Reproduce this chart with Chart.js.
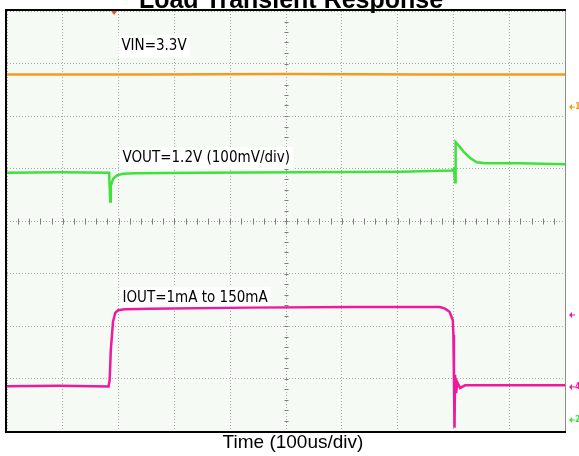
<!DOCTYPE html>
<html>
<head>
<meta charset="utf-8">
<title>Load Transient Response</title>
<script src="https://cdn.jsdelivr.net/npm/chart.js@4.4.1/dist/chart.umd.min.js"></script>
<style>
  html, body { margin: 0; padding: 0; background: #ffffff; }
  #wrap { position: relative; width: 579px; height: 456px; }
</style>
</head>
<body>
<div id="wrap"><canvas id="scope"></canvas></div>
<script>
/* ------------------------------------------------------------
   Scope capture: 10 x 8 divisions.
   Time is in divisions (100us/div), levels in divisions from
   the bottom of the screen.
------------------------------------------------------------ */
var X_DIVS = 10;
var Y_DIVS = 8;

var chartTitle = 'Load Transient Response';
var xAxisTitle = 'Time (100us/div)';
var traceLabels = ['VIN=3.3V', 'VOUT=1.2V (100mV/div)', 'IOUT=1mA to 150mA'];

var vinT  = [0, 2.5, 5, 7.5, 10];
var vinV  = [6.79, 6.79, 6.80, 6.79, 6.79];

var voutT = [0, 0.95, 1.83, 1.85, 1.86, 1.90, 1.97, 2.08, 2.29, 3.46, 5.25, 7.04, 7.97, 8.01, 8.03, 8.04, 8.10, 8.19, 8.30, 8.42, 8.57, 9.19, 10];
var voutV = [4.92, 4.93, 4.92, 4.37, 4.67, 4.80, 4.87, 4.90, 4.91, 4.92, 4.93, 4.94, 4.96, 4.99, 4.74, 5.50, 5.43, 5.31, 5.20, 5.12, 5.10, 5.10, 5.08];

var ioutT = [0, 0.95, 1.82, 1.84, 1.86, 1.90, 1.94, 1.99, 2.11, 2.56, 4.35, 6.15, 7.76, 7.85, 7.93, 7.99, 8.00, 8.01, 8.02, 8.03, 8.05, 8.07, 8.12, 8.21, 9.19, 10];
var ioutV = [0.85, 0.86, 0.85, 0.97, 1.54, 2.08, 2.25, 2.30, 2.32, 2.33, 2.35, 2.36, 2.36, 2.33, 2.27, 2.11, 1.83, 0.97, 0.06, 1.07, 0.72, 0.93, 0.82, 0.87, 0.87, 0.87];

var COLORS = {
  vin:    '#f59a1e',
  vout:   '#3ee23a',
  iout:   '#ee1a9e',
  screen: '#f5faf5',
  grid:   '#a6a6a6',
  tick:   '#7d7d7d',
  frame:  '#000000'
};

function toPoints(t, v) {
  return t.map(function (x, i) { return { x: x, y: v[i] }; });
}

/* screen background, frame, graticule ticks, labels and markers */
var scopePlugin = {
  id: 'scope',
  beforeDraw: function (chart) {
    var ctx = chart.ctx, a = chart.chartArea;
    ctx.save();
    ctx.fillStyle = COLORS.screen;
    ctx.fillRect(a.left, a.top, a.right - a.left, a.bottom - a.top);
    ctx.restore();
  },
  beforeDatasetsDraw: function (chart) {
    var ctx = chart.ctx;
    var xs = chart.scales.x, ys = chart.scales.y;
    var cx = Math.round(xs.getPixelForValue(X_DIVS / 2)) + 0.5;
    var cy = Math.round(ys.getPixelForValue(Y_DIVS / 2)) + 0.5;
    ctx.save();
    ctx.strokeStyle = COLORS.tick;
    ctx.lineWidth = 1;
    ctx.beginPath();
    for (var i = 1; i < X_DIVS * 5; i++) {
      var px = Math.round(xs.getPixelForValue(i / 5)) + 0.5;
      ctx.moveTo(px, cy - 3);
      ctx.lineTo(px, cy + 3);
    }
    for (var j = 1; j < Y_DIVS * 5; j++) {
      var py = Math.round(ys.getPixelForValue(j / 5)) + 0.5;
      ctx.moveTo(cx - 2, py);
      ctx.lineTo(cx + 2, py);
    }
    ctx.stroke();

    /* trace labels */
    var spots = [[2.05, 7.33], [2.07, 5.20], [2.07, 2.54]];
    ctx.font = '15px "DejaVu Sans Condensed", "DejaVu Sans", sans-serif';
    ctx.textBaseline = 'middle';
    ctx.textAlign = 'left';
    traceLabels.forEach(function (txt, k) {
      var lx = xs.getPixelForValue(spots[k][0]);
      var ly = ys.getPixelForValue(spots[k][1]);
      var w = ctx.measureText(txt).width;
      ctx.fillStyle = '#ffffff';
      ctx.fillRect(lx - 3, ly - 11, w + 6, 22);
      ctx.fillStyle = '#000000';
      ctx.fillText(txt, lx, ly);
    });
    ctx.restore();
  },
  afterDraw: function (chart) {
    var ctx = chart.ctx, a = chart.chartArea;
    var xs = chart.scales.x, ys = chart.scales.y;
    ctx.save();

    /* frame */
    ctx.strokeStyle = COLORS.frame;
    ctx.lineWidth = 2;
    ctx.beginPath();
    ctx.moveTo(a.right + 1, a.top - 1);
    ctx.lineTo(a.left - 1, a.top - 1);
    ctx.lineTo(a.left - 1, a.bottom + 1);
    ctx.lineTo(a.right + 1, a.bottom + 1);
    ctx.stroke();
    ctx.strokeStyle = '#8c8c8c';
    ctx.lineWidth = 1;
    ctx.beginPath();
    ctx.moveTo(a.right + 0.5, a.top);
    ctx.lineTo(a.right + 0.5, a.bottom);
    ctx.stroke();

    /* trigger position marker */
    var tx = xs.getPixelForValue(1.92);
    ctx.fillStyle = '#f0501e';
    ctx.beginPath();
    ctx.moveTo(tx - 3, a.top);
    ctx.lineTo(tx + 3, a.top);
    ctx.lineTo(tx, a.top + 4);
    ctx.closePath();
    ctx.fill();

    /* channel markers at right edge */
    var marks = [['1', 6.17, COLORS.vin], ['', 2.21, COLORS.iout], ['4', 0.84, COLORS.iout], ['2', 0.21, COLORS.vout]];
    ctx.font = 'bold 9px "DejaVu Sans Condensed", "DejaVu Sans", sans-serif';
    ctx.textBaseline = 'middle';
    marks.forEach(function (m) {
      var my = ys.getPixelForValue(m[1]);
      var mx = a.right + 4;
      ctx.fillStyle = m[2];
      ctx.beginPath();
      ctx.moveTo(mx, my);
      ctx.lineTo(mx + 3, my - 3);
      ctx.lineTo(mx + 3, my + 3);
      ctx.closePath();
      ctx.fill();
      ctx.fillRect(mx + 3, my - 0.5, 3, 1);
      if (m[0]) ctx.fillText(m[0], mx + 6, my);
    });

    /* title (cut by the top of the image) and time axis */
    ctx.fillStyle = '#000000';
    ctx.textAlign = 'center';
    ctx.textBaseline = 'alphabetic';
    ctx.font = 'bold 25px "Liberation Sans", Arial, sans-serif';
    ctx.fillText(chartTitle, 291, 8);
    ctx.textBaseline = 'middle';
    ctx.font = '19px "Liberation Sans", Arial, sans-serif';
    ctx.fillText(xAxisTitle, 293, 443);
    ctx.restore();
  }
};

function lineSet(label, t, v, color) {
  return {
    label: label,
    data: toPoints(t, v),
    borderColor: color,
    backgroundColor: color,
    borderWidth: 2.5,
    pointRadius: 0,
    tension: 0,
    fill: false
  };
}

new Chart(document.getElementById('scope'), {
  type: 'line',
  data: {
    datasets: [
      lineSet('VIN', vinT, vinV, COLORS.vin),
      lineSet('VOUT', voutT, voutV, COLORS.vout),
      lineSet('IOUT', ioutT, ioutV, COLORS.iout)
    ]
  },
  options: {
    responsive: true,
    maintainAspectRatio: false,
    animation: false,
    layout: { padding: { left: 7, top: 11, right: 14, bottom: 25 } },
    plugins: {
      legend: { display: false },
      tooltip: { enabled: false },
      title: { display: false }
    },
    scales: {
      x: {
        type: 'linear',
        min: 0,
        max: X_DIVS,
        ticks: { display: false, stepSize: 1 },
        grid: { color: COLORS.grid, drawTicks: false, lineWidth: 1 },
        border: { display: false, dash: [1, 2] }
      },
      y: {
        type: 'linear',
        min: 0,
        max: Y_DIVS,
        ticks: { display: false, stepSize: 1 },
        grid: { color: COLORS.grid, drawTicks: false, lineWidth: 1 },
        border: { display: false, dash: [1, 2] }
      }
    }
  },
  plugins: [scopePlugin]
});
</script>
</body>
</html>
